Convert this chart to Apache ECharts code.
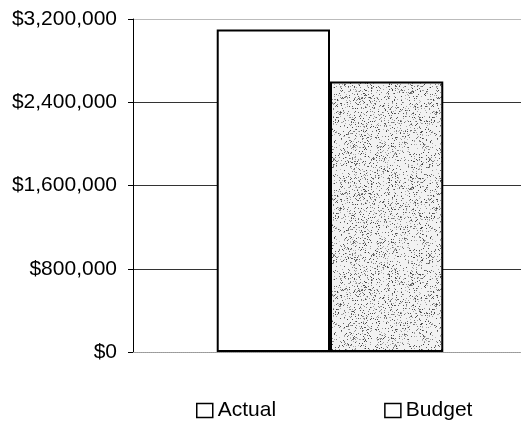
<!DOCTYPE html>
<html>
<head>
<meta charset="utf-8">
<script src="https://cdn.jsdelivr.net/npm/echarts@6/dist/echarts.min.js"></script>
<style>
html,body{margin:0;padding:0;background:#fff;overflow:hidden;}
#chart{width:540px;height:422px;}
</style>
</head>
<body>
<div id="chart"></div>
<script>
const categories = [''];
const seriesNames = ['Actual', 'Budget'];
const actualValues = [3100000];
const budgetValues = [2600000];
const yTicks = [0, 800000, 1600000, 2400000, 3200000];

// speckled gray texture for the Budget bar (style only)
function makeSpeckle() {
  const c = document.createElement('canvas');
  c.width = 96; c.height = 96;
  const g = c.getContext('2d');
  g.fillStyle = '#f2f2f2';
  g.fillRect(0, 0, 96, 96);
  let s = 12345;
  function rnd() { s = (s * 1103515245 + 12345) & 0x7fffffff; return s / 0x7fffffff; }
  for (let i = 0; i < 1500; i++) {
    const x = Math.floor(rnd() * 96), y = Math.floor(rnd() * 96);
    const v = Math.floor(60 + rnd() * 130);
    g.fillStyle = 'rgb(' + v + ',' + v + ',' + v + ')';
    g.fillRect(x, y, 1, 1);
  }
  return c;
}

const chart = echarts.init(document.getElementById('chart'), null, {renderer: 'canvas'});
const fontFam = '"Liberation Sans", Arial, sans-serif';
chart.setOption({
  animation: false,
  backgroundColor: '#fff',
  grid: {left: 133, right: 13, top: 19, bottom: 70, containLabel: false},
  legend: {
    left: 191, top: 395,
    itemWidth: 16, itemHeight: 14, itemGap: 108,
    icon: 'rect',
    textStyle: {fontFamily: fontFam, fontSize: 21, color: '#000'},
    data: seriesNames.map(n => ({name: n, itemStyle: {color: '#fff', borderColor: '#000', borderWidth: 1.5}}))
  },
  xAxis: {
    type: 'category',
    data: categories,
    axisLine: {show: true, lineStyle: {color: '#999', type: 'dotted', width: 1}},
    axisTick: {show: false},
    axisLabel: {show: false},
    splitLine: {show: false}
  },
  yAxis: {
    type: 'value',
    min: yTicks[0], max: yTicks[yTicks.length - 1], interval: yTicks[1] - yTicks[0],
    axisLine: {show: true, lineStyle: {color: '#000', width: 1}},
    axisTick: {show: true, length: 5, lineStyle: {color: '#000'}},
    axisLabel: {
      margin: 16, color: '#000', fontFamily: fontFam, fontSize: 21,
      formatter: v => '$' + v.toLocaleString('en-US')
    },
    splitLine: {show: true, lineStyle: {color: ['#bbb', '#333', '#333', '#333', '#bbb'], width: 1}}
  },
  series: [
    {
      name: seriesNames[0], type: 'bar', data: actualValues,
      barGap: '0%', barCategoryGap: '42.5%',
      itemStyle: {color: '#fff', borderColor: '#000', borderWidth: 2}
    },
    {
      name: seriesNames[1], type: 'bar', data: budgetValues,
      itemStyle: {color: {image: makeSpeckle(), repeat: 'repeat'}, borderColor: '#000', borderWidth: 2}
    }
  ]
});
</script>
</body>
</html>
